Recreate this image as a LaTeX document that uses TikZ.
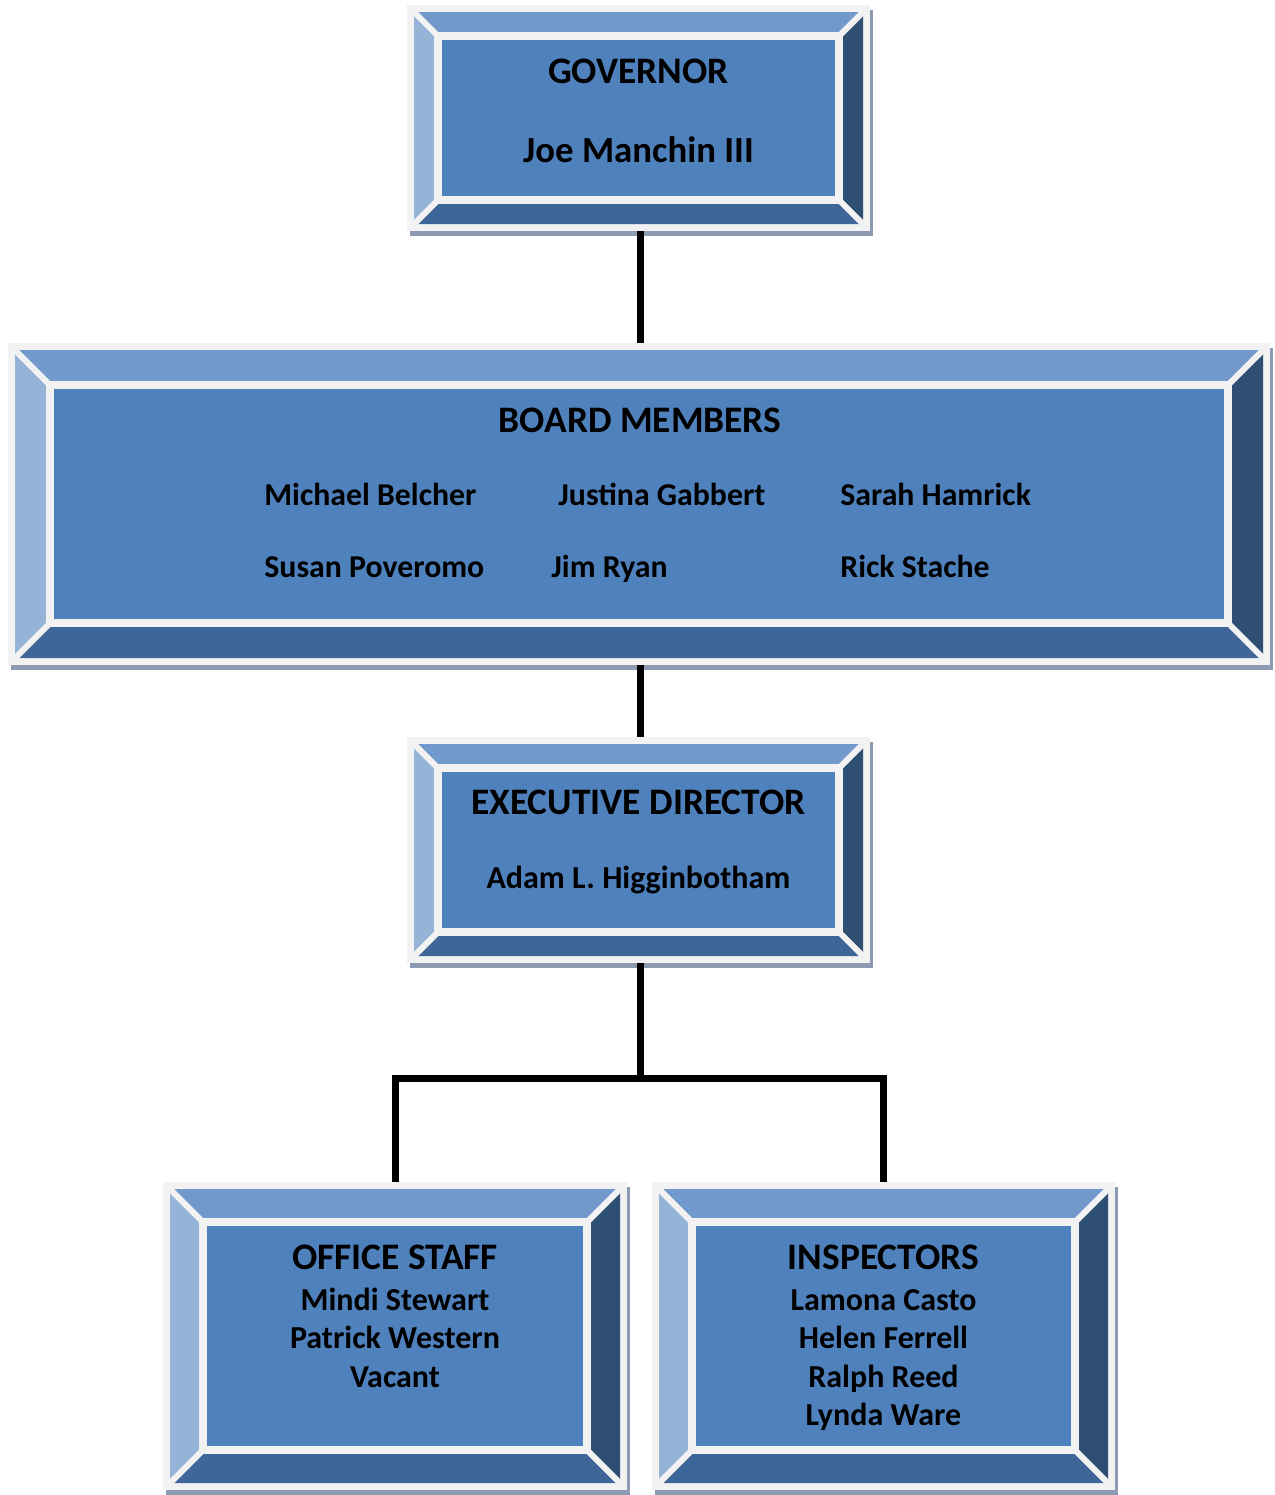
\documentclass[tikz,border=0pt]{standalone}
\usepackage{fontspec}
\setmainfont{Carlito}
\usepackage{xcolor}
\usepackage{tikz}
\usetikzlibrary{calc, shadows}

\definecolor{framegrey}{RGB}{242,242,242}
\definecolor{shadowgrey}{RGB}{141,155,178}
\definecolor{bevtop}{RGB}{113,153,203}
\definecolor{bevleft}{RGB}{149,179,215}
\definecolor{bevbottom}{RGB}{63,102,152}
\definecolor{bevright}{RGB}{47,78,116}
\definecolor{faceblue}{RGB}{79,129,189}

\begin{document}
\begin{tikzpicture}[
  x=0.5pt, y=-0.5pt,
  bevel width/.store in=\bevw, bevel width=12pt,
  orgbox/.style={rectangle, fill=framegrey, inner sep=0pt,
    general shadow={fill=shadowgrey, shadow xshift=1.25pt, shadow yshift=-2.5pt},
    path picture={
      \coordinate (bo1) at ($(path picture bounding box.south west)+(3.5pt,3.5pt)$);
      \coordinate (bo2) at ($(path picture bounding box.north east)-(3.5pt,3.5pt)$);
      \coordinate (bi1) at ($(bo1)+(\bevw,\bevw)$);
      \coordinate (bi2) at ($(bo2)-(\bevw,\bevw)$);
      \fill[bevtop] (bo1|-bo2) -- (bo2) -- (bi2) -- (bi1|-bi2) -- cycle;
      \fill[bevleft] (bo1) -- (bo1|-bo2) -- (bi1|-bi2) -- (bi1) -- cycle;
      \fill[bevbottom] (bo1) -- (bo2|-bo1) -- (bi2|-bi1) -- (bi1) -- cycle;
      \fill[bevright] (bo2|-bo1) -- (bo2) -- (bi2) -- (bi2|-bi1) -- cycle;
      \fill[faceblue] (bi1) rectangle (bi2);
      \draw[framegrey, line width=4pt] (bi1) rectangle (bi2);
      \draw[framegrey, line width=3pt]
        (bo1) -- (bi1) (bo1|-bo2) -- (bi1|-bi2)
        (bo2) -- (bi2) (bo2|-bo1) -- (bi2|-bi1);
    }},
  head/.style={font=\fontsize{18.7}{22}\selectfont\bfseries, anchor=base, inner sep=0pt},
  person/.style={font=\fontsize{16}{19}\selectfont\bfseries, anchor=base, inner sep=0pt},
  member/.style={font=\fontsize{15.9}{19}\selectfont\bfseries, anchor=base west, inner sep=0pt},
  conn/.style={line width=3.5pt, black}
]
\useasboundingbox (0,0) rectangle (1275,1495);

% Boxes
\node[orgbox, bevel width=12pt, minimum width=231.5pt, minimum height=113pt] (gov) at (638.5,118) {};
\node[orgbox, bevel width=17.5pt, minimum width=631pt, minimum height=161pt] (board) at (639,504) {};
\node[orgbox, bevel width=12pt, minimum width=231.5pt, minimum height=113pt] (exec) at (638.5,850) {};
\node[orgbox, bevel width=16.5pt, minimum width=232pt, minimum height=154pt] (office) at (395,1336) {};
\node[orgbox, bevel width=16.5pt, minimum width=231.5pt, minimum height=154pt] (insp) at (883.5,1336) {};

% Governor
\node[head] (govhead) at (638.5,83) {GOVERNOR};
\node[head, font=\fontsize{18.4}{22}\selectfont\bfseries] (govname) at (638.5,162) {Joe Manchin III};

% Board
\node[head] (boardhead) at (640,432) {BOARD MEMBERS};
\node[member] (belcher) at (264,505) {Michael Belcher};
\node[member] (gabbert) at (558,505) {Justina Gabbert};
\node[member] (hamrick) at (840,505) {Sarah Hamrick};
\node[member] (poveromo) at (264,577) {Susan Poveromo};
\node[member] (ryan) at (551,577) {Jim Ryan};
\node[member] (stache) at (840,577) {Rick Stache};

% Executive director
\node[head] (exechead) at (638.5,814) {EXECUTIVE DIRECTOR};
\node[person] (execname) at (638.5,888) {Adam L. Higginbotham};

% Office staff
\node[head] (officehead) at (395,1269) {OFFICE STAFF};
\node[person] (stewart) at (395,1310) {Mindi Stewart};
\node[person] (western) at (395,1348) {Patrick Western};
\node[person] (vacant) at (395,1387) {Vacant};

% Inspectors
\node[head] (insphead) at (883.5,1269) {INSPECTORS};
\node[person] (casto) at (883.5,1310) {Lamona Casto};
\node[person] (ferrell) at (883.5,1348) {Helen Ferrell};
\node[person] (reed) at (883.5,1387) {Ralph Reed};
\node[person] (ware) at (883.5,1425) {Lynda Ware};

% Connectors
\coordinate (split) at (640,1078);
\draw[conn] (gov.south -| split) -- (board.north -| split);
\draw[conn] (board.south -| split) -- (exec.north -| split);
\draw[conn] (exec.south -| split) -- (split);
\draw[conn] (office.north) |- (split) -| (insp.north);

\end{tikzpicture}
\end{document}
